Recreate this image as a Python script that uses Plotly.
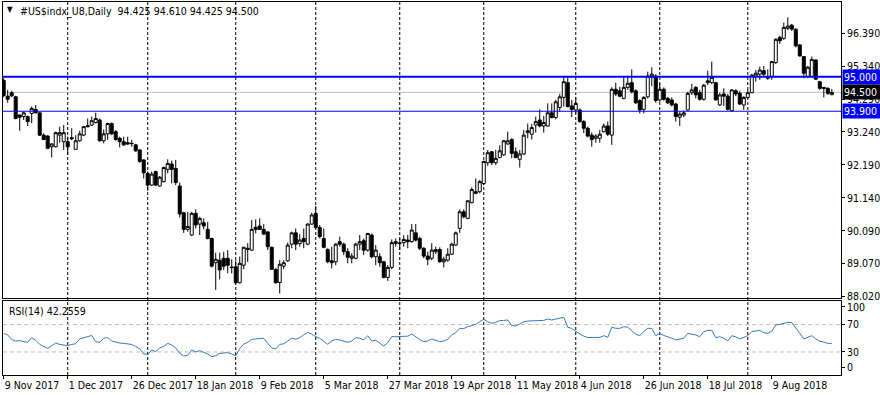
import plotly.graph_objects as go

# ---------------- data ----------------
opens = [94.88,94.38,94.49,94.36,93.78,93.73,93.73,93.83,93.96,93.85,
         93.14,93.11,92.77,92.77,93.14,92.93,92.93,93.06,92.69,92.96,
         93.14,93.44,93.46,93.54,93.62,92.96,93.18,93.51,93.25,93.04,
         92.93,92.90,92.88,92.83,92.67,92.35,91.92,91.55,91.98,91.52,
         91.66,92.05,92.22,92.08,91.52,90.67,90.14,89.96,90.65,90.31,
         90.35,90.14,89.85,89.08,89.16,89.22,89.22,88.94,88.95,88.44,
         89.00,89.50,89.48,90.21,90.25,90.14,90.06,89.57,88.87,88.45,
         88.97,89.14,89.67,90.03,89.69,89.85,89.67,90.31,90.65,90.20,
         89.85,89.50,89.14,89.11,89.75,89.67,89.43,89.22,89.22,89.67,
         89.78,89.48,89.96,89.27,89.27,89.11,88.61,88.93,89.69,89.70,
         89.72,89.80,89.75,90.03,89.85,89.54,89.29,89.22,89.43,89.50,
         89.11,89.16,89.35,89.64,90.17,90.70,90.49,90.99,91.34,91.34,
         91.60,92.26,92.61,92.26,92.43,92.51,92.86,93.00,92.61,92.37,
         92.54,93.22,93.17,93.46,93.62,93.43,93.43,93.85,93.70,94.02,
         94.34,94.81,94.07,93.94,93.94,93.57,93.36,93.14,93.04,93.04,
         93.25,93.43,93.14,94.60,94.55,94.31,94.66,94.81,94.55,94.24,
         93.96,94.36,95.00,95.02,94.26,94.60,94.31,94.26,94.13,93.71,
         93.78,93.94,94.49,94.66,94.49,94.28,94.81,94.81,94.81,94.10,
         94.45,94.38,93.92,94.55,94.47,94.10,94.34,94.49,95.02,95.08,
         95.19,95.00,95.00,95.45,96.25,96.22,96.54,96.64,96.51,96.01,
         95.64,95.00,95.00,95.53,94.84,94.66,94.63,94.425]
highs = [94.95,94.58,94.55,94.39,93.80,93.88,93.76,94.05,94.10,93.86,
         93.20,93.14,92.88,93.25,93.41,93.46,93.09,93.36,93.14,93.28,
         93.43,93.67,93.73,93.85,93.67,93.32,93.54,93.54,93.30,93.09,
         93.09,93.09,92.99,92.86,92.69,92.37,91.98,91.98,92.01,91.84,
         92.14,92.37,92.33,92.35,91.63,90.70,90.70,90.70,90.78,90.54,
         90.49,90.38,89.88,89.40,89.40,89.43,89.48,89.19,89.16,89.27,
         89.59,89.70,90.44,90.46,90.49,90.31,90.08,89.59,88.90,89.16,
         89.16,89.72,90.07,90.17,89.99,90.17,90.33,90.67,90.88,90.28,
         90.17,89.54,89.59,89.70,89.91,89.72,89.54,89.38,89.72,89.96,
         89.85,90.03,90.01,89.64,89.38,89.14,89.00,89.82,89.85,89.85,
         89.96,89.96,90.31,90.31,89.91,89.57,89.43,89.70,89.59,89.57,
         89.27,89.54,89.72,90.07,90.78,90.78,91.07,91.48,91.76,91.71,
         92.33,92.67,92.64,92.67,92.82,92.98,93.25,93.04,92.75,92.67,
         93.30,93.51,93.49,93.73,93.96,93.75,94.15,94.15,94.26,94.45,
         94.99,95.00,94.26,94.34,93.99,93.62,93.41,93.22,93.17,93.30,
         93.51,93.57,94.66,94.81,94.68,94.98,95.02,95.23,94.60,94.28,
         94.38,95.16,95.30,95.08,94.79,94.66,94.36,94.34,94.17,93.89,
         93.92,94.52,94.77,94.70,94.58,94.77,95.19,95.48,94.84,94.49,
         94.63,94.45,94.60,94.60,94.55,94.38,94.58,95.08,95.21,95.32,
         95.34,95.23,95.51,96.22,96.30,96.72,96.89,96.68,96.54,96.04,
         95.66,95.34,95.64,95.55,94.87,94.66,94.66,94.61]
lows = [94.35,94.17,94.35,93.64,93.28,93.62,93.43,93.52,93.83,93.11,
        92.98,92.69,92.43,92.75,92.90,92.67,92.51,92.98,92.67,92.93,
        93.11,93.39,93.43,93.51,92.93,92.88,92.99,93.14,92.96,92.75,
        92.79,92.83,92.77,92.61,92.26,91.76,91.37,91.52,91.52,91.50,
        91.63,91.92,91.60,91.55,90.52,90.03,90.07,89.93,90.17,89.96,
        90.14,89.82,88.93,88.21,88.55,88.85,88.74,88.74,88.42,88.42,
        88.87,89.10,89.46,90.01,90.12,89.96,89.48,88.85,88.42,88.10,
        88.87,89.11,89.54,89.48,89.59,89.54,89.64,90.28,90.17,89.85,
        89.54,89.06,88.90,89.00,89.59,89.32,89.06,89.06,89.19,89.48,
        89.32,89.43,89.22,89.00,88.95,88.58,88.50,88.87,89.59,89.48,
        89.59,89.54,89.72,89.75,89.48,89.22,89.00,89.16,89.35,89.08,
        88.93,89.11,89.32,89.61,90.03,90.49,90.46,90.97,91.26,91.29,
        91.55,92.16,92.19,92.19,92.40,92.48,92.83,92.40,92.40,92.11,
        92.51,93.04,93.00,93.22,93.39,93.22,93.41,93.67,93.64,93.89,
        94.05,94.02,93.71,93.83,93.54,93.20,93.07,92.77,92.90,92.90,
        93.22,93.11,92.83,94.38,94.34,94.28,94.58,94.47,94.13,93.83,
        93.83,94.31,94.70,94.17,94.20,94.24,94.13,94.05,93.57,93.43,
        93.71,93.92,94.42,94.31,94.24,94.24,94.73,94.77,94.24,94.07,
        94.07,93.92,93.89,94.38,94.10,93.94,94.31,94.47,94.84,94.90,
        95.02,94.90,94.90,95.40,96.04,96.17,96.48,96.46,95.93,95.64,
        94.95,94.98,94.98,94.90,94.58,94.34,94.42,94.425]
closes = [94.40,94.28,94.39,93.67,93.71,93.85,93.57,93.99,93.85,93.14,
          93.00,92.72,92.86,93.22,93.22,93.22,92.77,93.02,92.96,93.18,
          93.41,93.41,93.60,93.67,92.96,93.18,93.51,93.18,93.00,92.93,
          92.83,92.86,92.87,92.64,92.30,91.94,91.55,91.90,91.55,91.80,
          92.11,92.24,92.05,91.63,90.63,90.14,90.23,90.65,90.28,90.49,
          90.25,89.85,88.97,89.19,88.85,88.97,89.00,88.93,88.44,89.06,
          89.57,89.54,90.14,90.14,90.14,89.99,89.59,88.87,88.44,89.03,
          89.08,89.64,90.03,89.67,89.80,89.75,90.31,90.60,90.20,89.91,
          89.57,89.11,89.08,89.67,89.67,89.43,89.25,89.29,89.67,89.75,
          89.48,90.01,89.27,89.48,89.08,88.61,88.93,89.72,89.75,89.70,
          89.82,89.75,90.12,89.80,89.54,89.29,89.19,89.48,89.50,89.11,
          89.19,89.35,89.67,90.03,90.70,90.54,91.05,91.41,91.29,91.66,
          92.30,92.58,92.26,92.40,92.64,92.96,92.96,92.56,92.43,92.54,
          93.14,93.28,93.38,93.57,93.43,93.54,93.85,93.70,94.20,94.36,
          94.84,94.05,93.96,94.15,93.57,93.36,93.11,93.00,93.11,93.17,
          93.43,93.17,94.60,94.45,94.38,94.66,94.79,94.52,94.17,93.94,
          94.34,95.02,95.08,94.24,94.60,94.28,94.17,94.10,93.73,93.81,
          93.85,94.47,94.58,94.42,94.28,94.73,94.87,94.98,94.26,94.42,
          94.38,93.96,94.58,94.45,94.13,94.34,94.49,95.05,95.11,95.21,
          95.08,94.95,95.48,96.19,96.14,96.57,96.61,96.51,95.98,95.66,
          95.11,95.30,95.55,94.92,94.63,94.63,94.47,94.50]
rsi14 = [57,55,48,46,46.5,45,44,50.8,47,41,
         38,35.3,39,43,41,40,39.2,41,42,49,
         50.5,52,54,45,44,50,51,46,44,43,
         42.5,42,41,38,35,27,26.6,33,30.5,36,
         38,42.6,40,36,28,24.2,25,32.9,30,32,
         30,27,23.2,24.5,28,28.5,29,27,24.2,35,
         41.6,44,48.4,49,50,49.9,42.6,36,34.4,41,
         42,46,50,48.4,50.8,55,58.6,56,52.3,49.9,
         45,41.2,46,48.4,47.5,46,44,46,50.8,50,
         47.5,53.7,46,47,43,38.7,43.6,52.3,52.3,52.3,
         52.3,53,56.2,52,48,45,46,48.9,47,45,
         46,48.4,55,58,64.4,64,66.8,69,70.2,74.1,
         77.5,74,71.7,73,75.6,76,76.5,68.3,67.8,71,
         74.1,75,75.1,75,75.1,76,78,76.5,78,79,
         80.4,65.9,64.4,60,56.2,53,51,50.8,51,51.3,
         53.7,51.3,65.9,64.5,64.4,66.8,66,61,56,53.7,
         60,64.4,64.4,53.7,57.1,54,52.3,50,47.5,48.4,
         50,57.1,56,54.7,52.3,59.6,61.5,61.5,50.8,52.3,
         50,46,53.7,52,48.9,51,53.7,59.6,61,61.5,
         58,57.1,60.5,69.3,70.2,72,73.1,72.7,65.4,57.1,
         49,51,53.7,48.9,45.5,44.5,42.6,42.2559]
bars = list(range(len(closes)))

date_tick_idx = [0, 16, 32, 48, 64, 80, 96, 112, 128, 144, 160, 176, 192]
date_tick_text = ["9 Nov 2017", "1 Dec 2017", "26 Dec 2017", "18 Jan 2018",
                  "9 Feb 2018", "5 Mar 2018", "27 Mar 2018", "19 Apr 2018",
                  "11 May 2018", "4 Jun 2018", "26 Jun 2018", "18 Jul 2018",
                  "9 Aug 2018"]
month_start_idx = [16, 36, 58, 78, 99, 120, 143, 164, 186]
price_ticks = [96.39, 95.34, 94.29, 93.24, 92.19, 91.14, 90.09, 89.07, 88.02]
rsi_levels = [70, 30]
rsi_tick_text = ["100", "70", "30", "0"]
rsi_tick_pos = [95.5, 70, 30, 8]
resistance = 95.000
support = 93.900
last_price = 94.500
header = "#US$indx_U8,Daily  94.425 94.610 94.425 94.500"
rsi_label = "RSI(14) 42.2559"

FONT = "Liberation Sans Narrow, DejaVu Sans Condensed, Liberation Sans, Arial"
FS = 10.5

fig = go.Figure()
fig.add_trace(go.Candlestick(
    x=bars, open=opens, high=highs, low=lows, close=closes,
    increasing=dict(line=dict(color="black", width=1), fillcolor="white"),
    decreasing=dict(line=dict(color="black", width=1), fillcolor="black"),
    whiskerwidth=0, xaxis="x", yaxis="y", showlegend=False, hoverinfo="skip"))
fig.add_trace(go.Scatter(
    x=bars, y=rsi14, mode="lines", line=dict(color="#3878C0", width=1),
    xaxis="x2", yaxis="y2", showlegend=False, hoverinfo="skip"))

shapes = []
for m in month_start_idx:
    shapes.append(dict(type="line", xref="x", yref="paper", x0=m, x1=m, y0=0, y1=1,
                       line=dict(color="black", width=1, dash="3px,2px"), layer="below"))
shapes.append(dict(type="line", xref="paper", yref="y", x0=0, x1=1, y0=last_price, y1=last_price,
                   line=dict(color="#C0C0C0", width=1), layer="below"))
shapes.append(dict(type="line", xref="paper", yref="y", x0=0, x1=1, y0=resistance, y1=resistance,
                   line=dict(color="#0000FF", width=2)))
shapes.append(dict(type="line", xref="paper", yref="y", x0=0, x1=1, y0=support, y1=support,
                   line=dict(color="#0000FF", width=1.2)))
for lv in rsi_levels:
    shapes.append(dict(type="line", xref="paper", yref="y2", x0=0, x1=1, y0=lv, y1=lv,
                       line=dict(color="#C0C0C0", width=1, dash="4px,3px"), layer="below"))

annotations = [
    dict(xref="paper", yref="paper", x=0, y=1, xanchor="left", yanchor="top", xshift=2, yshift=-1,
         text="\u25BC", showarrow=False, font=dict(size=8, color="black", family=FONT)),
    dict(xref="paper", yref="paper", x=0, y=1, xanchor="left", yanchor="top", xshift=15, yshift=-1,
         text=header, showarrow=False, font=dict(size=FS, color="black", family=FONT)),
    dict(xref="paper", yref="paper", x=0, y=0.1984, xanchor="left", yanchor="top", xshift=4, yshift=-2,
         text=rsi_label, showarrow=False, font=dict(size=FS, color="black", family=FONT)),
]
for val, bg in [(resistance, "#0000FF"), (support, "#0000FF"), (last_price, "black")]:
    annotations.append(dict(xref="paper", yref="y", x=1, y=val, xanchor="left", yanchor="middle",
                            xshift=1, text="%.3f" % val, showarrow=False, bgcolor=bg,
                            width=35, align="left", borderpad=1,
                            font=dict(size=FS, color="white", family=FONT)))

fig.update_layout(
    width=880, height=395,
    margin=dict(l=3, r=39, t=2, b=20, autoexpand=False),
    paper_bgcolor="white", plot_bgcolor="white",
    boxgap=0.25, boxgroupgap=0,
    showlegend=False,
    font=dict(family=FONT, size=FS, color="black"),
    xaxis=dict(domain=[0, 1], range=[-0.175, 209.3], anchor="y", showticklabels=False,
               showgrid=False, zeroline=False, showline=True, mirror=True, linecolor="black",
               linewidth=1, ticks="", rangeslider=dict(visible=False), automargin=False),
    xaxis2=dict(domain=[0, 1], range=[-0.175, 209.3], anchor="y2", matches="x",
                tickvals=date_tick_idx, ticktext=date_tick_text, ticklabelposition="outside right",
                tickangle=0, ticks="outside", ticklen=3, tickcolor="black", showgrid=False,
                zeroline=False, showline=True, mirror=True, linecolor="black", linewidth=1,
                automargin=False, tickfont=dict(size=FS, family=FONT)),
    yaxis=dict(domain=[0.2064, 1], range=[87.956, 97.377], side="right", anchor="x",
               tickvals=price_ticks, ticktext=["%.3f" % v for v in price_ticks],
               ticks="outside", ticklen=3, tickcolor="black", showgrid=False, zeroline=False,
               showline=True, mirror=True, linecolor="black", linewidth=1, automargin=False,
               tickfont=dict(size=FS, family=FONT)),
    yaxis2=dict(domain=[0, 0.1984], range=[-3.5, 104.2], side="right", anchor="x2",
                tickvals=rsi_tick_pos, ticktext=rsi_tick_text,
                ticks="outside", ticklen=3, tickcolor="black", showgrid=False, zeroline=False,
                showline=True, mirror=True, linecolor="black", linewidth=1, automargin=False,
                tickfont=dict(size=FS, family=FONT)),
    shapes=shapes, annotations=annotations,
)

fig.write_html("out.html", config={"displayModeBar": False},
               post_script="document.body.style.margin='0px';document.body.style.overflow='hidden';")
